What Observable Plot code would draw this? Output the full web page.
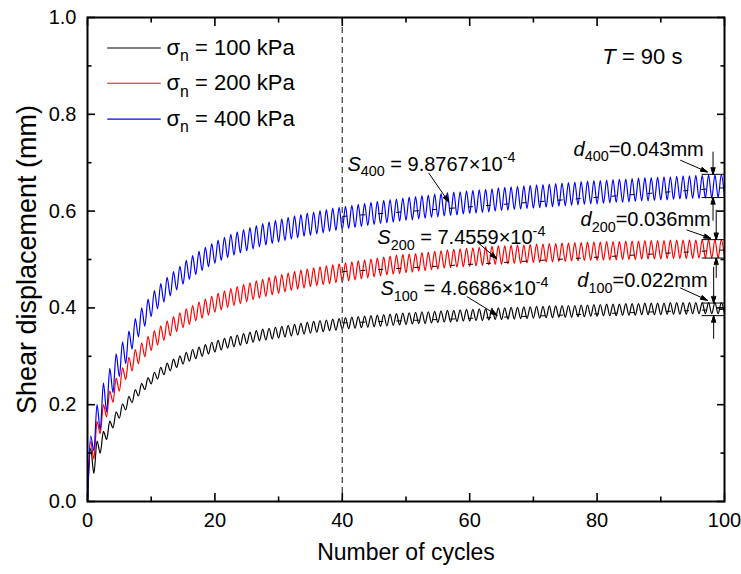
<!DOCTYPE html>
<html><head><meta charset="utf-8">
<script src="https://cdn.jsdelivr.net/npm/d3@7"></script>
<script src="https://cdn.jsdelivr.net/npm/@observablehq/plot@0.6"></script>
<style>
html,body{margin:0;padding:0;background:#fff;}
#chart{width:741px;height:574px;}
</style></head><body><div id="chart"></div>
<script>
// ---- data ----
const seriesLabels = ["σ_{n} = 100 kPa", "σ_{n} = 200 kPa", "σ_{n} = 400 kPa"];
const seriesColors = ["#000000", "#ff0000", "#0000ff"];

// troughs at each whole cycle (0..100) and peaks at each half cycle (0.5..99.5)
const lo100 = [0.000,0.058,0.100,0.128,0.152,0.172,0.189,0.204,0.218,0.231,
0.243,0.253,0.262,0.270,0.277,0.284,0.290,0.295,0.300,0.305,
0.309,0.313,0.317,0.320,0.323,0.326,0.329,0.332,0.334,0.336,
0.338,0.340,0.342,0.344,0.346,0.348,0.350,0.351,0.353,0.354,
0.356,0.357,0.358,0.359,0.360,0.361,0.362,0.363,0.364,0.365,
0.366,0.367,0.368,0.368,0.369,0.370,0.371,0.371,0.372,0.373,
0.373,0.374,0.374,0.375,0.376,0.376,0.377,0.377,0.378,0.378,
0.379,0.379,0.380,0.380,0.381,0.381,0.381,0.382,0.382,0.383,
0.383,0.384,0.384,0.384,0.385,0.385,0.385,0.386,0.386,0.386,
0.386,0.387,0.387,0.387,0.387,0.388,0.388,0.388,0.388,0.388,
0.388];
const hi100 = [0.110,0.125,0.145,0.166,0.185,0.202,0.217,0.231,0.244,0.256,
0.267,0.277,0.286,0.294,0.301,0.308,0.314,0.319,0.324,0.329,
0.333,0.337,0.341,0.344,0.347,0.350,0.353,0.356,0.358,0.360,
0.362,0.364,0.366,0.368,0.370,0.372,0.374,0.375,0.377,0.378,
0.380,0.381,0.382,0.383,0.384,0.385,0.386,0.387,0.388,0.389,
0.390,0.391,0.392,0.392,0.393,0.394,0.395,0.395,0.396,0.397,
0.397,0.398,0.398,0.399,0.400,0.400,0.401,0.401,0.402,0.402,
0.403,0.403,0.404,0.404,0.405,0.405,0.405,0.406,0.406,0.407,
0.407,0.408,0.408,0.408,0.409,0.409,0.409,0.410,0.410,0.410,
0.410,0.411,0.411,0.411,0.411,0.411,0.411,0.411,0.411,0.411];

const lo200 = [0.000,0.088,0.140,0.175,0.205,0.228,0.252,0.270,0.285,0.299,
0.312,0.323,0.333,0.342,0.351,0.359,0.366,0.373,0.379,0.385,
0.391,0.396,0.401,0.405,0.409,0.413,0.417,0.420,0.424,0.427,
0.430,0.433,0.436,0.439,0.441,0.444,0.446,0.448,0.450,0.452,
0.454,0.456,0.458,0.460,0.462,0.464,0.466,0.468,0.470,0.471,
0.473,0.474,0.476,0.477,0.479,0.480,0.482,0.483,0.484,0.485,
0.486,0.487,0.488,0.489,0.490,0.490,0.491,0.492,0.492,0.493,
0.494,0.494,0.495,0.495,0.496,0.496,0.497,0.497,0.498,0.498,
0.498,0.499,0.499,0.499,0.500,0.500,0.500,0.501,0.501,0.501,
0.501,0.502,0.502,0.502,0.502,0.502,0.503,0.503,0.503,0.503,
0.503];
const hi200 = [0.125,0.165,0.200,0.228,0.255,0.276,0.298,0.314,0.328,0.341,
0.353,0.363,0.373,0.382,0.390,0.398,0.405,0.412,0.418,0.424,
0.430,0.435,0.440,0.444,0.448,0.452,0.456,0.459,0.463,0.466,
0.469,0.472,0.475,0.478,0.480,0.483,0.485,0.487,0.489,0.491,
0.493,0.495,0.497,0.499,0.501,0.503,0.505,0.507,0.509,0.510,
0.511,0.512,0.514,0.515,0.517,0.518,0.520,0.521,0.522,0.523,
0.524,0.525,0.526,0.527,0.528,0.528,0.529,0.530,0.530,0.531,
0.532,0.532,0.533,0.533,0.534,0.534,0.535,0.535,0.536,0.536,
0.536,0.537,0.537,0.537,0.538,0.538,0.538,0.539,0.539,0.539,
0.539,0.540,0.540,0.540,0.540,0.540,0.541,0.541,0.541,0.541];

const lo400 = [0.000,0.105,0.148,0.185,0.225,0.258,0.285,0.315,0.340,0.362,
0.382,0.398,0.412,0.425,0.437,0.449,0.459,0.469,0.477,0.485,
0.492,0.498,0.504,0.509,0.514,0.518,0.522,0.526,0.530,0.533,
0.536,0.539,0.542,0.545,0.548,0.550,0.553,0.555,0.558,0.560,
0.562,0.564,0.566,0.568,0.570,0.572,0.574,0.576,0.577,0.579,
0.581,0.582,0.584,0.585,0.587,0.588,0.590,0.591,0.592,0.594,
0.595,0.596,0.597,0.598,0.600,0.601,0.602,0.603,0.604,0.605,
0.606,0.607,0.608,0.609,0.610,0.611,0.612,0.613,0.614,0.615,
0.615,0.616,0.617,0.618,0.618,0.619,0.620,0.621,0.621,0.622,
0.623,0.623,0.624,0.625,0.625,0.626,0.626,0.627,0.627,0.628,
0.628];
const hi400 = [0.135,0.200,0.245,0.275,0.305,0.330,0.352,0.378,0.400,0.418,
0.436,0.450,0.463,0.475,0.486,0.498,0.508,0.517,0.525,0.533,
0.540,0.546,0.552,0.557,0.562,0.566,0.570,0.574,0.578,0.581,
0.584,0.587,0.590,0.593,0.596,0.598,0.601,0.603,0.606,0.608,
0.610,0.612,0.614,0.616,0.618,0.620,0.622,0.624,0.625,0.627,
0.629,0.630,0.632,0.633,0.635,0.636,0.638,0.639,0.640,0.642,
0.643,0.644,0.645,0.646,0.648,0.649,0.650,0.651,0.652,0.653,
0.654,0.655,0.656,0.657,0.658,0.659,0.660,0.661,0.662,0.663,
0.663,0.664,0.665,0.666,0.666,0.667,0.668,0.669,0.669,0.670,
0.671,0.671,0.672,0.673,0.673,0.674,0.674,0.675,0.675,0.676];

// linear fits (slope S per cycle) over cycles 40..100
const fitRange = [40, 100];
const fitStart = [0.369, 0.475, 0.589];
const fitSlope = [4.6686e-4, 7.4559e-4, 9.8767e-4];
const fitLabels = ["*S*_{100} = 4.6686×10^{-4}", "*S*_{200} = 7.4559×10^{-4}", "*S*_{400} = 9.8767×10^{-4}"];
const fitLabelPos = [[46.0, 0.439], [45.5, 0.545], [40.8, 0.697]];
const fitArrows = [[59.6, 0.423, 64.3, 0.385], [61.2, 0.536, 64.2, 0.502], [53.6, 0.678, 56.7, 0.619]];

// amplitude bands at the last cycle
const ampLabels = ["*d*_{100}=0.022mm", "*d*_{200}=0.036mm", "*d*_{400}=0.043mm"];
const ampLabelPos = [[76.9, 0.456], [77.4, 0.582], [76.3, 0.728]];
const ampBand = [[0.384, 0.410], [0.503, 0.541], [0.628, 0.676]];
const ampBandX = [96.5, 100];
const ampArrowX = [98.3, 98.7, 98.2];
const ampArrowOuter = [[0.484, 0.337], [0.602, 0.463], [0.722, 0.581]];
const ampDiag = [[93.1, 0.441, 97.3, 0.416], [94.1, 0.561, 97.8, 0.544], [93.1, 0.705, 97.3, 0.681]];

const periodLabel = "*T* = 90 s";
const dashedCycle = 40;
const xMajor = [0, 20, 40, 60, 80, 100];
const xMinor = [10, 30, 50, 70, 90];
const yMajor = [0, 0.2, 0.4, 0.6, 0.8, 1.0];
const yMinor = [0.1, 0.3, 0.5, 0.7, 0.9];
const legendLine = [3.1, 11.5];
const legendY = [0.937, 0.864, 0.790];
const legendTextX = 12.4;

// ---- build tables ----
const los = [lo100, lo200, lo400], his = [hi100, hi200, hi400];
const curves = los.map((lo, k) => {
  const hi = his[k], rows = [];
  for (let c = 0; c < hi.length; c++) {
    rows.push({x: c, y: lo[c]});
    rows.push({x: c + 0.5, y: hi[c]});
  }
  rows.push({x: hi.length, y: lo[hi.length]});
  return rows;
});
const fits = fitStart.map((a, k) => ({x1: fitRange[0], y1: a, x2: fitRange[1], y2: a + fitSlope[k] * (fitRange[1] - fitRange[0])}));
const idx = [0, 1, 2];
const font = "'Liberation Sans', Arial, Helvetica, sans-serif";
const arrowStyle = {stroke: "#000", strokeWidth: 1, headLength: 10, headAngle: 34};

const marks = [];
idx.forEach(k => marks.push(Plot.line(curves[k], {x: "x", y: "y", stroke: seriesColors[k], strokeWidth: 1.2, curve: "monotone-x"})));
marks.push(Plot.link(fits, {x1: "x1", y1: "y1", x2: "x2", y2: "y2", stroke: "#000", strokeWidth: 1, strokeDasharray: "5,13"}));
marks.push(Plot.ruleX([dashedCycle], {stroke: "#555", strokeWidth: 1.4, strokeDasharray: "6,4"}));
// legend
marks.push(Plot.link(idx, {x1: legendLine[0], x2: legendLine[1], y1: i => legendY[i], y2: i => legendY[i], stroke: i => seriesColors[i], strokeWidth: 1.1}));
marks.push(Plot.text(idx, {x: legendTextX, y: i => legendY[i], text: i => seriesLabels[i], textAnchor: "start", lineAnchor: "middle", fontSize: 22, fill: "#000"}));
// annotations
marks.push(Plot.text([periodLabel], {x: 93.4, y: 0.918, text: d => d, textAnchor: "end", fontSize: 22}));
marks.push(Plot.text(idx, {x: i => fitLabelPos[i][0], y: i => fitLabelPos[i][1], text: i => fitLabels[i], textAnchor: "start", fontSize: 20}));
marks.push(Plot.arrow(idx, {x1: i => fitArrows[i][0], y1: i => fitArrows[i][1], x2: i => fitArrows[i][2], y2: i => fitArrows[i][3], ...arrowStyle}));
marks.push(Plot.text(idx, {x: i => ampLabelPos[i][0], y: i => ampLabelPos[i][1], text: i => ampLabels[i], textAnchor: "start", fontSize: 20}));
marks.push(Plot.ruleY(idx.flatMap(i => ampBand[i]), {x1: ampBandX[0], x2: ampBandX[1], stroke: "#000", strokeWidth: 1}));
marks.push(Plot.arrow(idx, {x1: i => ampArrowX[i], x2: i => ampArrowX[i], y1: i => ampArrowOuter[i][0], y2: i => ampBand[i][1], ...arrowStyle}));
marks.push(Plot.arrow(idx, {x1: i => ampArrowX[i], x2: i => ampArrowX[i], y1: i => ampArrowOuter[i][1], y2: i => ampBand[i][0], ...arrowStyle}));
marks.push(Plot.arrow(idx, {x1: i => ampDiag[i][0], y1: i => ampDiag[i][1], x2: i => ampDiag[i][2], y2: i => ampDiag[i][3], ...arrowStyle}));
// frame and axes
marks.push(Plot.frame({stroke: "#000", strokeWidth: 2}));
for (const anchor of ["bottom", "top"]) {
  marks.push(Plot.axisX(xMajor, {anchor, tickSize: -8, tickFormat: () => "", label: null, strokeWidth: 1.6}));
  marks.push(Plot.axisX(xMinor, {anchor, tickSize: -4.5, tickFormat: () => "", label: null, strokeWidth: 1.6}));
}
for (const anchor of ["left", "right"]) {
  marks.push(Plot.axisY(yMajor, {anchor, tickSize: -8, tickFormat: () => "", label: null, strokeWidth: 1.6}));
  marks.push(Plot.axisY(yMinor, {anchor, tickSize: -4.5, tickFormat: () => "", label: null, strokeWidth: 1.6}));
}
marks.push(Plot.axisX(xMajor, {anchor: "bottom", tickSize: 0, tickPadding: 11, tickFormat: d3.format("d"), label: null, fontSize: 20}));
marks.push(Plot.axisY(yMajor, {anchor: "left", tickSize: 0, tickPadding: 11, tickFormat: d3.format(".1f"), label: null, fontSize: 20}));
marks.push(Plot.text(["Number of cycles"], {frameAnchor: "bottom", dy: 58, text: d => d, textAnchor: "middle", fontSize: 23}));
marks.push(Plot.text(["Shear displacement (mm)"], {frameAnchor: "left", dx: -60, rotate: -90, text: d => d, textAnchor: "middle", lineAnchor: "middle", fontSize: 27}));

const chart = Plot.plot({
  width: 741, height: 574,
  marginLeft: 87, marginRight: 17, marginTop: 17, marginBottom: 73,
  x: {domain: [0, 100]},
  y: {domain: [0, 1]},
  style: {fontFamily: font, fontSize: "20px", background: "#fff", color: "#000", overflow: "visible"},
  marks
});
document.getElementById("chart").appendChild(chart);

// filled arrowheads
d3.select(chart).selectAll("g[aria-label='arrow'] path").each(function() {
  const nums = (this.getAttribute("d") || "").match(/-?\d*\.?\d+(?:e-?\d+)?/g);
  if (!nums || nums.length < 10) return;
  const n = nums.map(Number);
  const head = document.createElementNS("http://www.w3.org/2000/svg", "path");
  head.setAttribute("d", `M${n[4]},${n[5]}L${n[6]},${n[7]}L${n[8]},${n[9]}Z`);
  head.setAttribute("fill", "#000");
  head.setAttribute("stroke", "#000");
  head.setAttribute("stroke-width", "0.8");
  this.parentNode.appendChild(head);
});

// rich text: *italic*, _{sub}, ^{sup}
d3.select(chart).selectAll("text").each(function() {
  const t = this, s = t.textContent;
  if (!/[_^]\{|\*/.test(s)) return;
  const fs = parseFloat(getComputedStyle(t).fontSize) || 20;
  const tokens = [];
  let buf = "", italic = false, pos = 0;
  const flush = () => { if (buf) tokens.push({text: buf, italic, mode: ""}); buf = ""; };
  while (pos < s.length) {
    const ch = s[pos];
    if (ch === "*") { flush(); italic = !italic; pos++; }
    else if ((ch === "_" || ch === "^") && s[pos + 1] === "{") {
      flush();
      const end = s.indexOf("}", pos);
      tokens.push({text: s.slice(pos + 2, end), italic, mode: ch});
      pos = end + 1;
    } else { buf += ch; pos++; }
  }
  flush();
  while (t.firstChild) t.removeChild(t.firstChild);
  let shift = 0;
  for (const tok of tokens) {
    const ts = document.createElementNS("http://www.w3.org/2000/svg", "tspan");
    ts.textContent = tok.text;
    let target = 0;
    if (tok.mode === "_") { target = 0.28 * fs; ts.setAttribute("font-size", (0.72 * fs).toFixed(1)); }
    if (tok.mode === "^") { target = -0.42 * fs; ts.setAttribute("font-size", (0.72 * fs).toFixed(1)); }
    if (target !== shift) { ts.setAttribute("dy", (target - shift).toFixed(2)); shift = target; }
    if (tok.italic) ts.setAttribute("font-style", "italic");
    t.appendChild(ts);
  }
});
</script></body></html>
